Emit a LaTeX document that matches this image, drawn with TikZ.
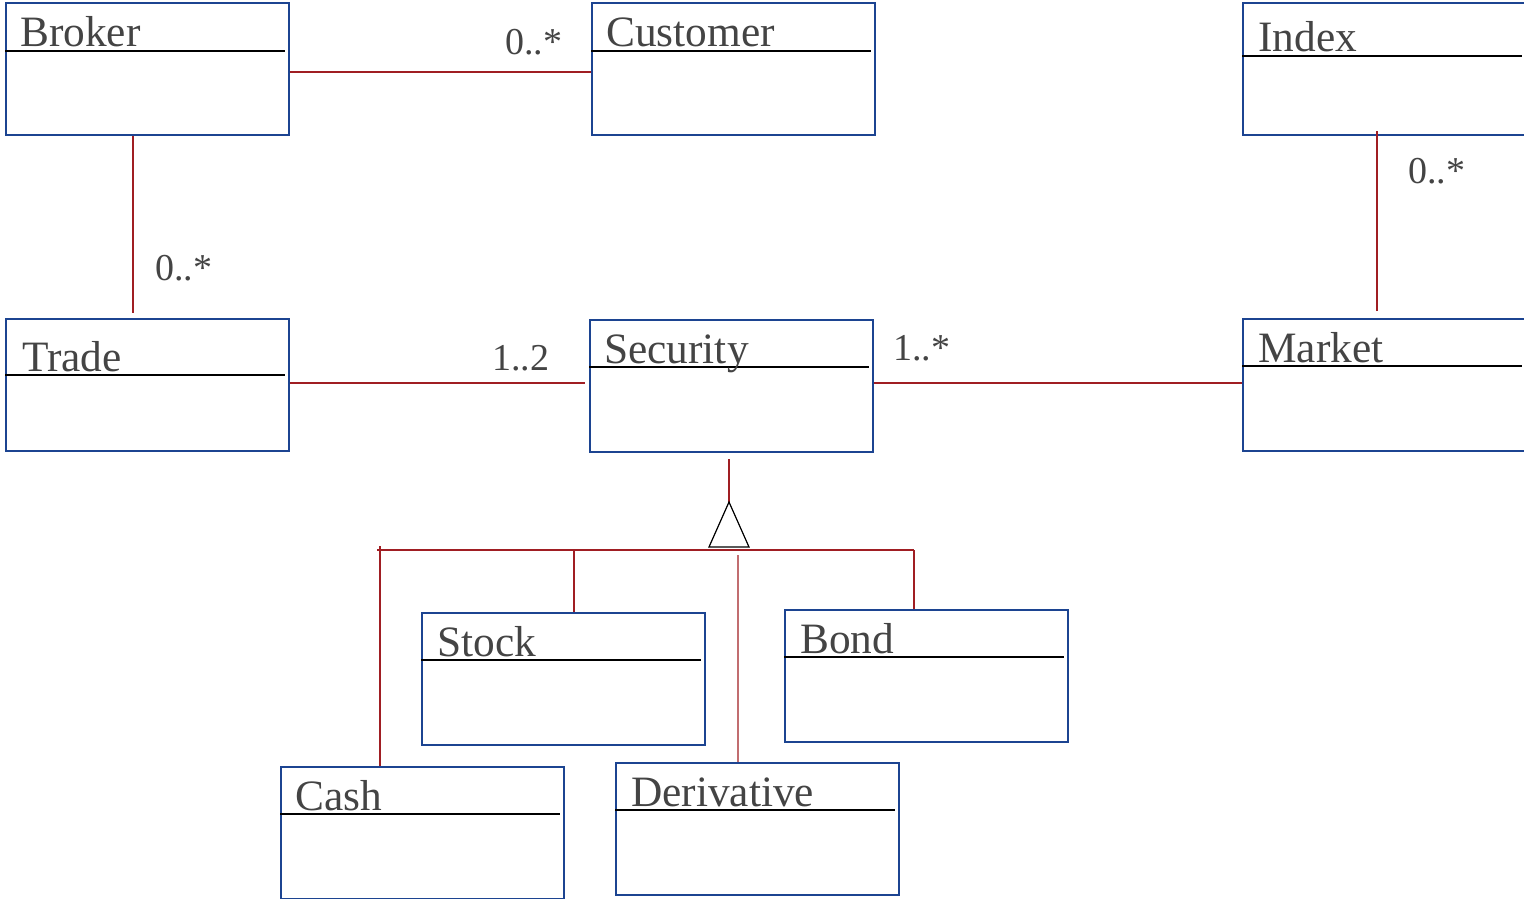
\documentclass[tikz,border=0pt]{standalone}
\usepackage{fontspec}
\setmainfont{Liberation Serif}
\definecolor{boxblue}{RGB}{28,68,145}
\definecolor{linkred}{RGB}{160,30,35}
\definecolor{textgray}{RGB}{68,68,68}

\begin{document}
\begin{tikzpicture}[x=0.75pt,y=0.75pt,yscale=-1,xscale=1,
  cls/.style={draw=boxblue, line width=1.8pt, anchor=north west, minimum width=212.25pt, minimum height=99pt, inner sep=0pt},
  sep/.style={black, line width=1.6pt},
  link/.style={linkred, line width=1pt},
  title/.style={anchor=base west, inner sep=0pt, text=textgray, font=\fontsize{32.5}{38}\selectfont},
  mult/.style={anchor=base west, inner sep=0pt, text=textgray, font=\fontsize{28.5}{34}\selectfont}]
%set diagram to 1524 x 899
\useasboundingbox (0,0) rectangle (1524,899);

%Shape: Rectangle [Broker]
\node[cls] (broker) at (5,2) {};
\draw[sep] (broker.west |- 0,51) -- ++(280,0);
%Shape: Rectangle [Customer]
\node[cls] (customer) at (591,2) {};
\draw[sep] (customer.west |- 0,51) -- ++(280,0);
%Shape: Rectangle [Index]
\node[cls] (index) at (1242,2) {};
\draw[sep] (index.west |- 0,56) -- ++(280,0);
%Shape: Rectangle [Trade]
\node[cls] (trade) at (5,318) {};
\draw[sep] (trade.west |- 0,375) -- ++(280,0);
%Shape: Rectangle [Security]
\node[cls] (security) at (589,319) {};
\draw[sep] (security.west |- 0,367) -- ++(280,0);
%Shape: Rectangle [Market]
\node[cls] (market) at (1242,318) {};
\draw[sep] (market.west |- 0,366) -- ++(280,0);
%Shape: Rectangle [Stock]
\node[cls] (stock) at (421,612) {};
\draw[sep] (stock.west |- 0,660) -- ++(280,0);
%Shape: Rectangle [Bond]
\node[cls] (bond) at (784,609) {};
\draw[sep] (bond.west |- 0,657) -- ++(280,0);
%Shape: Rectangle [Cash]
\node[cls] (cash) at (280,766) {};
\draw[sep] (cash.west |- 0,814) -- ++(280,0);
%Shape: Rectangle [Derivative]
\node[cls] (derivative) at (615,762) {};
\draw[sep] (derivative.west |- 0,810) -- ++(280,0);

%Straight Lines [associations]
\draw[link] (broker.east |- 0,72) -- (customer.west |- 0,72);
\draw[link] (broker.south -| 133,0) -- ++(0,177);
\draw[link] (market.north -| 1377,0) ++(0,-7) -- (1377,131);
\draw[link] (trade.east |- 0,383) -- ++(295,0);
\draw[link] (security.east |- 0,383) -- (market.west |- 0,383);

%Shape: Triangle [generalisation]
\coordinate (apex) at (729,502);
\coordinate (barL) at (377,550);
\coordinate (barR) at (914,550);
\draw[link] (apex |- security.south) ++(0,6) -- (apex);
\draw[black, line width=0.9pt] (apex) -- (749,547) -- (709,547) -- cycle;
\draw[link] (barL) -- (barR);
\draw[link] (380,546) -- (cash.north -| 380,0);
\draw[link] (574,550) -- (stock.north -| 574,0);
\draw[link] (barR) -- (bond.north -| 914,0);
\draw[link, linkred!65] (738,555) -- (derivative.north -| 738,0);

% Text Node
\node[title] (broker-t) at (20,47) {Broker};
\node[title] (customer-t) at (606,47) {Customer};
\node[title] (index-t) at (1258,52) {Index};
\node[title] (trade-t) at (22,371) {Trade};
\node[title] (security-t) at (604,363) {Security};
\node[title] (market-t) at (1258,362) {Market};
\node[title] (stock-t) at (437,656) {Stock};
\node[title] (bond-t) at (800,653) {Bond};
\node[title] (cash-t) at (295,810) {Cash};
\node[title] (derivative-t) at (631,806) {Derivative};
% Text Node
\node[mult] (m-customer) at (505,55) {0..*};
\node[mult] (m-trade) at (155,280) {0..*};
\node[mult] (m-index) at (1408,183) {0..*};
\node[mult] (m-security) at (492,370) {1..2};
\node[mult] (m-market) at (893,360) {1..*};

\end{tikzpicture}
\end{document}
